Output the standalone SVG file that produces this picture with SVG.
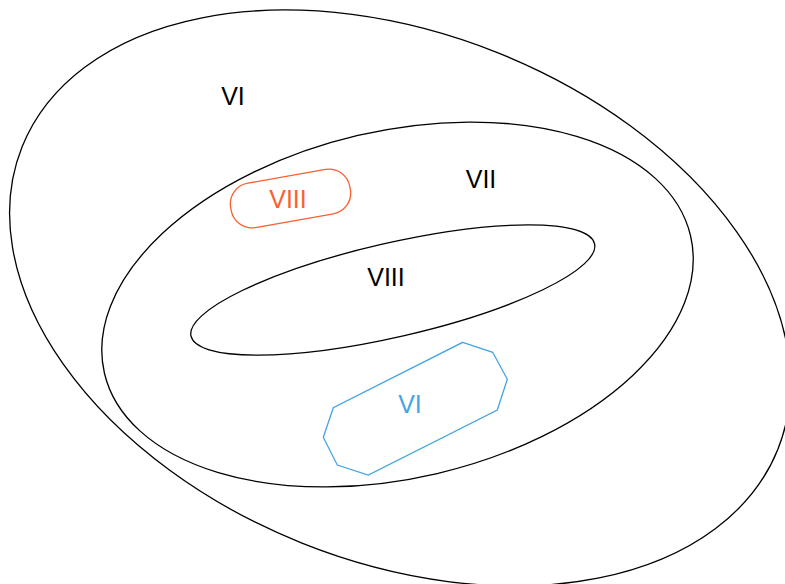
<svg xmlns="http://www.w3.org/2000/svg" width="785" height="584" viewBox="0 0 785 584">
<style>
.set{fill:none;stroke:#000;stroke-width:1.3}
.lbl{font-family:"Liberation Sans",Arial,sans-serif;font-size:25px;text-anchor:middle;fill:#000}
.orange{fill:none;stroke:#fa5f2f;stroke-width:1.3}
.blue{fill:none;stroke:#45a5e2;stroke-width:1.3}
</style>
<rect width="785" height="584" fill="#fff"/>
<g id="set-VI">
<ellipse class="set" cx="400" cy="298" rx="407" ry="264" transform="rotate(21.8 400 298)"/>
<text class="lbl" x="233" y="105">VI</text>
</g>
<g id="set-VII">
<ellipse class="set" cx="397.5" cy="304.5" rx="301" ry="173.6" transform="rotate(-13.2 397.5 304.5)"/>
<text class="lbl" x="481" y="188">VII</text>
</g>
<g id="set-VIII">
<ellipse class="set" cx="392.8" cy="290" rx="207" ry="47" transform="rotate(-12.9 392.8 290)"/>
<text class="lbl" x="386" y="285.7">VIII</text>
</g>
<g id="tag-VIII">
<rect class="orange" x="230" y="176" width="121" height="45" rx="21" ry="21" transform="rotate(-10 290.5 198.5)"/>
<text class="lbl" x="288" y="208.3" style="fill:#fa5f2f">VIII</text>
</g>
<g id="tag-VI">
<polygon class="blue" points="462.7,342.3 492.7,352.3 507.3,379.3 497.3,410 368.3,475 337.3,465 323.3,437.3 333.3,407.7"/>
<text class="lbl" x="410" y="413" style="fill:#45a5e2">VI</text>
</g>
<g id="connectors"/>
</svg>
